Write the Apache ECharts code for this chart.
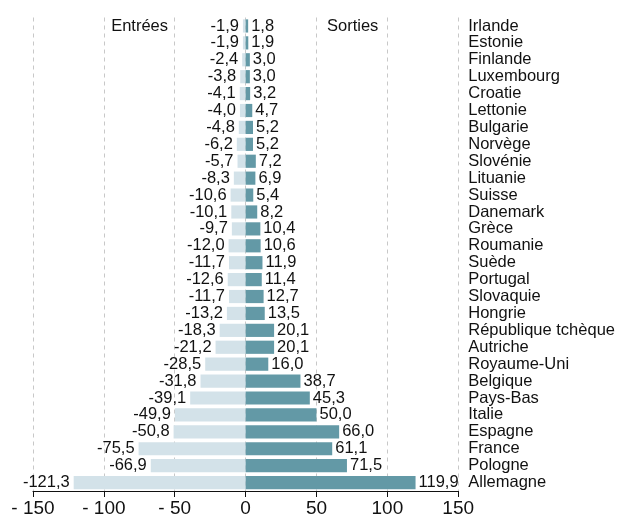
<!DOCTYPE html>
<html>
<head>
<meta charset="utf-8">
<script src="https://cdn.jsdelivr.net/npm/echarts@6/dist/echarts.min.js"></script>
<style>
  html, body { margin: 0; padding: 0; background: #fff; }
  #chart { width: 618px; height: 518px; }
</style>
</head>
<body>
<div id="chart"></div>
<script>
const pays = ['Irlande', 'Estonie', 'Finlande', 'Luxembourg', 'Croatie', 'Lettonie', 'Bulgarie', 'Norvège',
  'Slovénie', 'Lituanie', 'Suisse', 'Danemark', 'Grèce', 'Roumanie', 'Suède', 'Portugal', 'Slovaquie',
  'Hongrie', 'République tchèque', 'Autriche', 'Royaume-Uni', 'Belgique', 'Pays-Bas', 'Italie', 'Espagne',
  'France', 'Pologne', 'Allemagne'];
const entrees = [-1.9, -1.9, -2.4, -3.8, -4.1, -4.0, -4.8, -6.2, -5.7, -8.3, -10.6, -10.1, -9.7, -12.0,
  -11.7, -12.6, -11.7, -13.2, -18.3, -21.2, -28.5, -31.8, -39.1, -49.9, -50.8, -75.5, -66.9, -121.3];
const sorties = [1.8, 1.9, 3.0, 3.0, 3.2, 4.7, 5.2, 5.2, 7.2, 6.9, 5.4, 8.2, 10.4, 10.6, 11.9, 11.4, 12.7,
  13.5, 20.1, 20.1, 16.0, 38.7, 45.3, 50.0, 66.0, 61.1, 71.5, 119.9];

const font = 'Liberation Sans, Arial, Helvetica, sans-serif';
const fmt = v => v.toFixed(1).replace('.', ',');

let myCharts = echarts.init(document.getElementById('chart'));
let option = {
  animation: false,
  textStyle: { fontFamily: font, color: '#111' },
  grid: { left: 33, right: 159, top: 17.5, bottom: 24, containLabel: false },
  xAxis: {
    type: 'value',
    min: -150,
    max: 150,
    interval: 50,
    axisLine: { show: true, lineStyle: { color: '#111', width: 1 } },
    axisTick: { show: true, length: 6, lineStyle: { color: '#111' } },
    axisLabel: {
      fontSize: 19, color: '#111', margin: 8, fontFamily: font,
      formatter: v => v < 0 ? '- ' + Math.abs(v) : String(v)
    },
    splitLine: { show: true, lineStyle: { color: '#c8c8c8', type: [4, 4], width: 1 } }
  },
  yAxis: {
    type: 'category',
    data: pays,
    inverse: true,
    position: 'right',
    axisLine: { show: false },
    axisTick: { show: false },
    axisLabel: { interval: 0, fontSize: 16.5, color: '#111', margin: 10, align: 'left', fontFamily: font }
  },
  series: [
    {
      name: 'Entrées',
      type: 'bar',
      data: entrees,
      barWidth: '78%',
      barGap: '-100%',
      itemStyle: { color: '#d3e2e9' },
      label: {
        show: true, position: 'left', distance: 4, fontSize: 16.5, color: '#111', fontFamily: font,
        formatter: p => fmt(p.value)
      }
    },
    {
      name: 'Sorties',
      type: 'bar',
      data: sorties,
      barWidth: '78%',
      itemStyle: { color: '#6399a6' },
      label: {
        show: true, position: 'right', distance: 3, fontSize: 16.5, color: '#111', fontFamily: font,
        formatter: p => fmt(p.value)
      }
    }
  ],
  graphic: [
    { type: 'text', x: 168, y: 26, style: { text: 'Entrées', font: '16.5px ' + font, fill: '#111', align: 'right', verticalAlign: 'middle' } },
    { type: 'text', x: 327, y: 26, style: { text: 'Sorties', font: '16.5px ' + font, fill: '#111', align: 'left', verticalAlign: 'middle' } }
  ]
};
myCharts.setOption(option);
</script>
</body>
</html>
